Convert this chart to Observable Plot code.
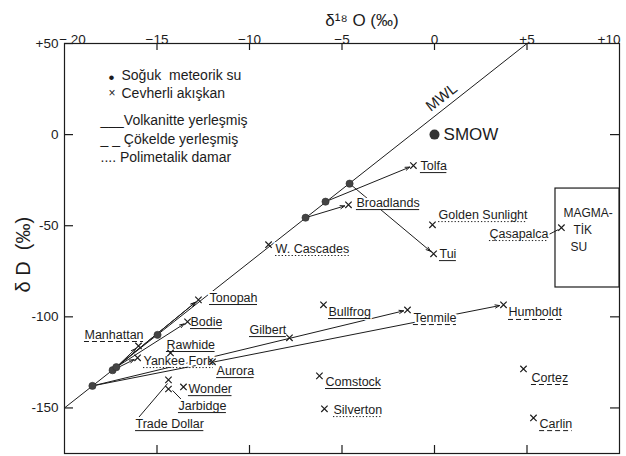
<!DOCTYPE html>
<html><head><meta charset="utf-8">
<script src="https://cdn.jsdelivr.net/npm/d3@7"></script>
<script src="https://cdn.jsdelivr.net/npm/@observablehq/plot@0.6"></script>
<style>body{margin:0;background:#fff} svg{display:block}</style>
</head><body><div id="chart"></div>
<script>
// ---- data ----
const xTicks = [-20, -15, -10, -5, 0, 5, 10];
const xTickLabels = ["− 20", "−15", "−10", "−5", "0", "+5", "+10"];
const xBottomTicks = [-15, -10, -5, 0, 5];
const yTicks = [50, 0, -50, -100, -150];
const yTickLabels = ["+50", "0", "-50", "-100", "-150"];
const yRightTicks = [0, -50, -100, -150];

const mwlD18O = [-20, 5];
const mwlDD = [-150, 50];

const smowD18O = [0];
const smowDD = [0];

const meteoricNames = ["M1", "M2a", "M2b", "M3", "M4", "M5", "M6"];
const meteoricD18O = [-18.49, -17.4, -17.2, -14.97, -6.97, -5.89, -4.59];
const meteoricDD = [-137.9, -129.3, -127.6, -109.9, -45.6, -36.8, -26.9];

const oreNames = ["Tonopah", "Bodie", "Manhattan", "Yankee Fork", "Rawhide", "Aurora", "Gilbert", "Bullfrog", "Tenmile", "Humboldt", "Comstock", "Silverton", "Cortez", "Carlin", "Wonder", "Trade Dollar", "Jarbidge", "W. Cascades", "Broadlands", "Tolfa", "Golden Sunlight", "Tui", "Çasapalca"];
const oreD18O = [-12.76, -13.35, -16.0, -16.05, -14.27, -12.0, -7.84, -6.0, -1.46, 3.73, -6.22, -5.95, 4.81, 5.35, -13.57, -14.38, -14.38, -8.97, -4.65, -1.14, -0.11, -0.05, 6.86];
const oreDD = [-90.7, -102.7, -116, -122.5, -119.8, -124.7, -111.5, -93.4, -96.2, -93.4, -132.4, -150.5, -128.6, -155.5, -138.5, -134.6, -139.6, -60.4, -38.5, -17.0, -49.5, -65.4, -51.1];
// V = volkanitte, S = çökelde, P = polimetalik damar
const oreHost = ["V", "V", "S", "P", "V", "V", "V", "V", "S", "S", "V", "P", "S", "S", "V", "V", "V", "P", "V", "V", "P", "V", "P"];
const oreLabelD18O = [-12.16, -13.19, -18.92, -15.73, -14.49, -11.78, -10.0, -5.73, -1.14, 4.0, -5.89, -5.46, 5.24, 5.68, -13.30, -16.16, -13.84, -8.59, -4.22, -0.76, 0.22, 0.27, 2.97];
const oreLabelDD = [-89.4, -102.6, -109.7, -124.0, -115.2, -129.5, -107.0, -97.1, -100.4, -97.6, -135.5, -150.9, -133.3, -158.6, -139.4, -158.6, -148.7, -62.5, -37.3, -17.0, -43.9, -65.3, -54.3];

const arrowFrom = ["M2a", "M2b", "M2b", "M2b", "M2a", "M1", "M1", "M4", "M5", "M6"];
const arrowTo = ["Tonopah", "Tonopah", "Bodie", "Manhattan", "Yankee Fork", "Tenmile", "Humboldt", "Broadlands", "Tolfa", "Tui"];

const leaderX1 = [-16.0, -14.16, 5.95];
const leaderY1 = [-155.3, -140.4, -56.0];
const leaderX2 = [-14.43, -13.62, 6.7];
const leaderY2 = [-136.6, -146.0, -52.1];

const magmaBoxX = [6.54, 10];
const magmaBoxY = [-83.9, -29.6];
const magmaText = ["MAGMA-", "TİK", "SU"];
const magmaTextD18O = [6.97, 7.51, 7.35];
const magmaTextDD = [-43.3, -52.3, -62.0];

const mwlLabel = "MWL";
const mwlLabelD18O = 0.38, mwlLabelDD = 20.4;
const smowLabelD18O = 0.49, smowLabelDD = 0;

// ---- build ----
const W = 626, H = 456, ML = 64, MR = 7, MT = 43, MB = 3;
const XD = [-20, 10], YD = [-175, 50];
const kX = (W - ML - MR) / (XD[1] - XD[0]);   // px per ‰ δ18O
const kY = (H - MT - MB) / (YD[1] - YD[0]);   // px per ‰ δD
const FONT = "'Liberation Sans', Arial, sans-serif";
const LABEL_FS = 12.5;
const ink = "#1c1c1c";
const ctx = document.createElement("canvas").getContext("2d");
ctx.font = `${LABEL_FS}px ${FONT}`;

const ores = oreNames.map((n, i) => ({
  name: n, x: oreD18O[i], y: oreDD[i], host: oreHost[i],
  lx: oreLabelD18O[i], ly: oreLabelDD[i],
  w: ctx.measureText(n).width / kX
}));
const met = meteoricNames.map((n, i) => ({name: n, x: meteoricD18O[i], y: meteoricDD[i]}));
const byName = new Map([...ores, ...met].map(d => [d.name, d]));
const arrows = arrowFrom.map((f, i) => ({a: byName.get(f), b: byName.get(arrowTo[i])}));
const leaders = leaderX1.map((d, i) => ({x1: d, y1: leaderY1[i], x2: leaderX2[i], y2: leaderY2[i]}));
const mwl = mwlD18O.map((d, i) => ({x: d, y: mwlDD[i]}));

const underline = (host, dash) => Plot.ruleY(ores.filter(d => d.host === host), {
  x1: "lx", x2: d => d.lx + d.w, y: "ly", dy: 7, stroke: ink, strokeWidth: 1, strokeDasharray: dash
});

const legendItems = [
  {t: "•", dx: 44, dy: 27, fs: 17},
  {t: "Soğuk  meteorik su", dx: 57, dy: 27, fs: 14},
  {t: "×", dx: 44, dy: 45, fs: 12},
  {t: "Cevherli akışkan", dx: 57, dy: 45, fs: 14},
  {t: "___Volkanitte yerleşmiş", dx: 36, dy: 72, fs: 14},
  {t: "_ _ Çökelde yerleşmiş", dx: 36, dy: 91, fs: 14},
  {t: ".... Polimetalik damar", dx: 36, dy: 109, fs: 14}
];

const tickLabel = d => xTickLabels[xTicks.indexOf(d)];
const TICK = 7;

const chart = Plot.plot({
  width: W, height: H,
  marginLeft: ML, marginRight: MR, marginTop: MT, marginBottom: MB,
  x: {domain: XD, label: null, axis: null},
  y: {domain: YD, label: null, axis: null},
  style: {fontFamily: FONT, background: "white", color: ink},
  marks: [
    // inward ticks
    Plot.ruleX(xTicks.slice(1, -1), {x: d => d, y1: YD[1], y2: YD[1] - TICK / kY, stroke: ink, strokeWidth: 1.2}),
    Plot.ruleX(xBottomTicks, {x: d => d, y1: YD[0], y2: YD[0] + (TICK + 1) / kY, stroke: ink, strokeWidth: 1.2}),
    Plot.ruleY(yTicks, {y: d => d, x1: XD[0], x2: XD[0] + (TICK + 2) / kX, stroke: ink, strokeWidth: 1.2}),
    Plot.ruleY(yRightTicks, {y: d => d, x1: XD[1], x2: XD[1] - (TICK + 2) / kX, stroke: ink, strokeWidth: 1.2}),
    // tick labels
    Plot.text(xTicks.slice(1, -1), {x: d => d, frameAnchor: "top", dy: -9, text: tickLabel, fontSize: 13.5, fill: ink}),
    Plot.text(xTicks.slice(0, 1), {x: d => d, frameAnchor: "top", dy: -9, dx: 8, text: tickLabel, fontSize: 13.5, fill: ink}),
    Plot.text(xTicks.slice(-1), {x: d => d, frameAnchor: "top", dy: -9, dx: 1, textAnchor: "end", text: tickLabel, fontSize: 13.5, fill: ink}),
    Plot.text(yTicks, {y: d => d, frameAnchor: "left", dx: -6, textAnchor: "end", text: d => yTickLabels[yTicks.indexOf(d)], fontSize: 13.5, fill: ink}),
    Plot.frame({stroke: ink, strokeWidth: 1.2}),
    Plot.text(["δ¹⁸ O (‰)"], {frameAnchor: "top", dx: 20, dy: -30, fontSize: 17, fill: ink}),
    Plot.text(["δ D  (‰)"], {frameAnchor: "left", rotate: -90, dx: -41, dy: 44, fontSize: 20, fill: ink}),
    // MWL
    Plot.line(mwl, {x: "x", y: "y", stroke: ink, strokeWidth: 1}),
    Plot.text([mwlLabel], {x: mwlLabelD18O, y: mwlLabelDD, rotate: -38, fontSize: 15, fill: ink}),
    // magmatic water box
    Plot.rect([0], {x1: magmaBoxX[0], x2: magmaBoxX[1], y1: magmaBoxY[0], y2: magmaBoxY[1], fill: "white", stroke: ink, strokeWidth: 1.2}),
    Plot.text(magmaText, {x: (d, i) => magmaTextD18O[i], y: (d, i) => magmaTextDD[i], text: d => d, textAnchor: "start", fontSize: 12, fill: ink}),
    // arrows and leaders
    Plot.arrow(arrows, {x1: d => d.a.x, y1: d => d.a.y, x2: d => d.b.x, y2: d => d.b.y,
      stroke: ink, strokeWidth: 1, headLength: 7, headAngle: 40, insetEnd: 4}),
    Plot.link(leaders, {x1: "x1", y1: "y1", x2: "x2", y2: "y2", stroke: ink, strokeWidth: 1}),
    // labels with halo (lines pass under them)
    Plot.text(ores, {x: "lx", y: "ly", text: "name", textAnchor: "start", fontSize: LABEL_FS,
      fill: ink, stroke: "white", strokeWidth: 4}),
    underline("V", null),
    underline("S", "5,3"),
    underline("P", "1.3,2"),
    // points
    Plot.dot(ores, {x: "x", y: "y", symbol: "times", r: 3, stroke: ink, strokeWidth: 1.2}),
    Plot.dot(met, {x: "x", y: "y", r: 3.6, fill: "#444", stroke: "#333", strokeWidth: 0.6}),
    Plot.dot(smowD18O.map((d, i) => ({x: d, y: smowDD[i]})), {x: "x", y: "y", r: 5, fill: "#333"}),
    Plot.text(["SMOW"], {x: smowLabelD18O, y: smowLabelDD, textAnchor: "start", fontSize: 17, fill: ink}),
    // legend
    ...legendItems.map(d => Plot.text([d.t], {frameAnchor: "top-left", textAnchor: "start", dx: d.dx, dy: d.dy, fontSize: d.fs, fill: ink}))
  ]
});
document.getElementById("chart").append(chart);
</script>
</body></html>
